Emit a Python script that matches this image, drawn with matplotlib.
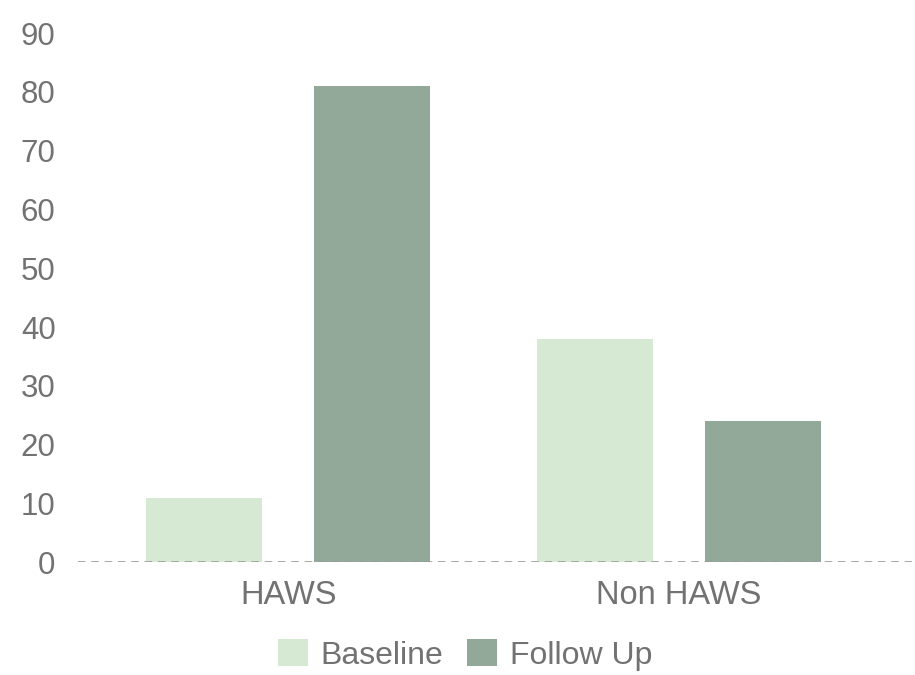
import numpy as np
import matplotlib
matplotlib.use("Agg")
import matplotlib.pyplot as plt

categories = ["HAWS", "Non HAWS"]
baseline = [11, 38]
follow_up = [81, 24]
series_names = ["Baseline", "Follow Up"]
yticks = [0, 10, 20, 30, 40, 50, 60, 70, 80, 90]

COL_BASE = "#d6e9d3"
COL_FOLLOW = "#92a99a"
TEXT = "#727272"

plt.rcParams["font.family"] = ["Liberation Sans", "DejaVu Sans"]

fig = plt.figure(figsize=(9.15, 6.75), dpi=100)
ax = fig.add_axes([0.085, 0.167, 0.912, 0.784])

x = np.arange(len(categories))
w = 0.297
off = 0.215
ax.bar(x - off, baseline, w, color=COL_BASE, label=series_names[0], zorder=2)
ax.bar(x + off, follow_up, w, color=COL_FOLLOW, label=series_names[1], zorder=2)
ax.axhline(0, color="#9a9a9a", lw=1.2, ls=(0, (4.5, 3.5)), zorder=3)

ax.set_ylim(0, 90)
ax.set_xlim(-0.539, 1.597)
ax.set_yticks(yticks)
ax.set_xticks(x)
ax.set_xticklabels(categories)
for s in ax.spines.values():
    s.set_visible(False)
ax.tick_params(axis="y", length=0, pad=16, labelsize=22.5, labelcolor=TEXT)
ax.tick_params(axis="x", length=0, pad=13, labelsize=23.5, labelcolor=TEXT)

fig.legend(loc="center", bbox_to_anchor=(0.508, 0.03), ncol=2, frameon=False,
           fontsize=23, labelcolor=TEXT, handlelength=0.95, handleheight=0.95,
           handletextpad=0.38, columnspacing=0.76, borderpad=0)

fig.savefig("out.png", dpi=100)
